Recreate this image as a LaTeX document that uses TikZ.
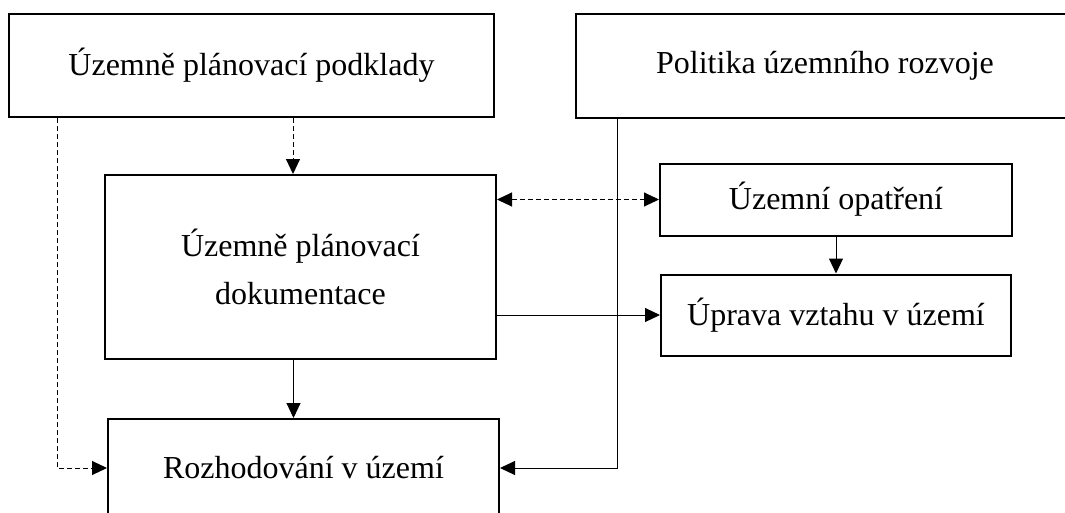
\documentclass[tikz,border=0pt]{standalone}
\usepackage{fontspec}
\setmainfont{Liberation Serif}
\usetikzlibrary{positioning,arrows.meta}
\tikzset{
  box/.style={rectangle,draw,line width=2pt,inner sep=0pt,align=center,font=\fontsize{32}{48}\selectfont},
  arr/.style={line width=1pt,-{Triangle[length=15pt,width=14pt]}},
  dasharr/.style={arr,dash pattern=on 5pt off 3pt},
  twoarr/.style={line width=1pt,dash pattern=on 5pt off 3pt,{Triangle[length=15pt,width=14pt]}-{Triangle[length=15pt,width=14pt]}}
}

\begin{document}
\begin{tikzpicture}
  \useasboundingbox (0,0) rectangle (1065pt,-512pt);
  \clip (0,0) rectangle (1065pt,-512pt);
  \node(podklady)[box,minimum width=485pt,minimum height=103pt] at (251.5pt,-65.5pt){Územně plánovací podklady};
  \node(politika)[box,minimum width=498pt,minimum height=104pt,right=80pt of podklady]{Politika územního rozvoje};
  \node(dokumentace)[box,minimum width=391pt,minimum height=184pt,below=56pt of podklady.south east,anchor=north east,xshift=2pt]{Územně plánovací\\dokumentace};
  \node(rozhodovani)[box,minimum width=391pt,minimum height=98pt,below=58pt of dokumentace,xshift=3pt]{Rozhodování v území};
  \node(opatreni)[box,minimum width=352pt,minimum height=72pt,below=44pt of politika.south west,anchor=north west,xshift=84pt]{Územní opatření};
  \node(uprava)[box,minimum width=350pt,minimum height=81pt,below=37pt of opatreni]{Úprava vztahu v území};
\draw[dasharr]([xshift=-7.5pt]dokumentace.north |- podklady.south)--([xshift=-7.5pt]dokumentace.north);
\draw[dasharr]([xshift=49pt]podklady.south west)|-(rozhodovani.west);
\draw[arr]([xshift=42pt]politika.south west)|-(rozhodovani.east);
\draw[twoarr](dokumentace.east |- opatreni.west)--(opatreni.west);
\draw[arr](dokumentace.east |- uprava.west)--(uprava.west);
\draw[arr](opatreni)--(uprava);
\draw[arr]([xshift=-7pt]dokumentace.south)--([xshift=-7pt]dokumentace.south |- rozhodovani.north);
\end{tikzpicture}
\end{document}
